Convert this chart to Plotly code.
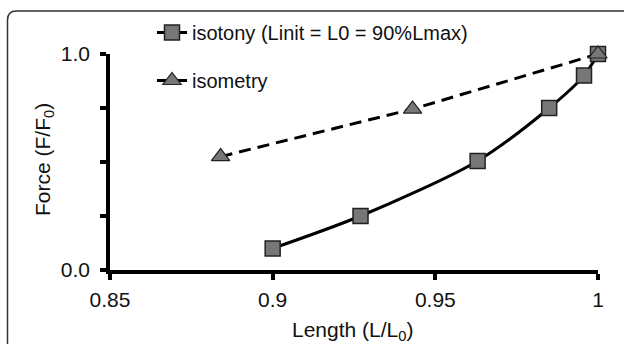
import plotly.graph_objects as go

# Data
isotony_x = [0.9, 0.927, 0.963, 0.985, 0.9957, 1.0]
isotony_y = [0.10, 0.25, 0.505, 0.75, 0.90, 1.0]
isometry_x = [0.884, 0.943, 1.0]
isometry_y = [0.525, 0.745, 1.0]

x_ticks = [0.85, 0.9, 0.95, 1.0]
x_ticktext = ["0.85", "0.9", "0.95", "1"]
y_ticks = [0.0, 1.0]
y_ticktext = ["0.0", "1.0"]
y_minor_ticks = [0.25, 0.5, 0.75]

x_title = "Length (L/L<sub>0</sub>)"
y_title = "Force (F/F<sub>0</sub>)"

FONT = "Liberation Sans, Arial, sans-serif"
GRAY = "#777777"

fig = go.Figure()
fig.add_trace(go.Scatter(
    x=isotony_x, y=isotony_y, mode="lines+markers",
    name="isotony (Linit = L0 = 90%Lmax)",
    line=dict(color="black", width=3, shape="spline", smoothing=0.8),
    marker=dict(symbol="square", size=15, color=GRAY, line=dict(color="#222", width=1.5)),
    cliponaxis=False, legend="legend",
))
fig.add_trace(go.Scatter(
    x=isometry_x, y=isometry_y, mode="lines+markers",
    name="isometry",
    line=dict(color="black", width=3, dash="12px,7px"),
    marker=dict(symbol="triangle-up", size=16, color=GRAY, line=dict(color="#222", width=1.2)),
    cliponaxis=False, legend="legend2",
))

L, R, T, B = 110, 26, 54, 74
W, H = 624, 344
pw, ph = W - L - R, H - T - B

def px(x):
    return (x - L) / pw

def py(y):
    return (H - B - y) / ph

r = 9
x0, y0 = px(7.5), py(11)
x1, y1 = px(640), py(360)
rx, ry = r / pw, r / ph
path = (f"M {x0},{y1} L {x0},{y0 - ry} Q {x0},{y0} {x0 + rx},{y0} L {x1},{y0}")

axis_common = dict(showline=True, linewidth=3.5, linecolor="black", ticks="outside",
                   ticklen=6, tickwidth=3.5, tickcolor="black", showgrid=False,
                   zeroline=False, tickfont=dict(size=21), automargin=False)

fig.update_layout(
    width=W, height=H,
    margin=dict(l=L, r=R, t=T, b=B),
    paper_bgcolor="white", plot_bgcolor="white",
    font=dict(family=FONT, size=21, color="#111"),
    showlegend=True,
    legend=dict(x=px(152), y=py(13), xanchor="left", yanchor="top",
                font=dict(size=20), bgcolor="rgba(0,0,0,0)"),
    legend2=dict(x=px(152), y=py(61), xanchor="left", yanchor="top",
                 font=dict(size=20), bgcolor="rgba(0,0,0,0)"),
    xaxis=dict(range=[0.85, 1.0], tickvals=x_ticks, ticktext=x_ticktext,
               ticklabelstandoff=2, **axis_common),
    yaxis=dict(range=[0, 1.0], tickvals=y_ticks, ticktext=y_ticktext,
               ticklabelstandoff=6,
               minor=dict(tickvals=y_minor_ticks, ticks="outside", ticklen=6,
                          tickwidth=3.5, tickcolor="black", showgrid=False),
               **axis_common),
    annotations=[
        dict(text=x_title, xref="paper", yref="paper", x=px(352), y=py(331),
             xanchor="center", yanchor="middle", showarrow=False,
             font=dict(size=21)),
        dict(text=y_title, xref="paper", yref="paper", x=px(44), y=py(160),
             xanchor="center", yanchor="middle", showarrow=False, textangle=-90,
             font=dict(size=21)),
    ],
    shapes=[dict(type="path", xref="paper", yref="paper", path=path,
                 line=dict(color="#333", width=1.5), layer="below")],
)

fig.write_html("out.html")
